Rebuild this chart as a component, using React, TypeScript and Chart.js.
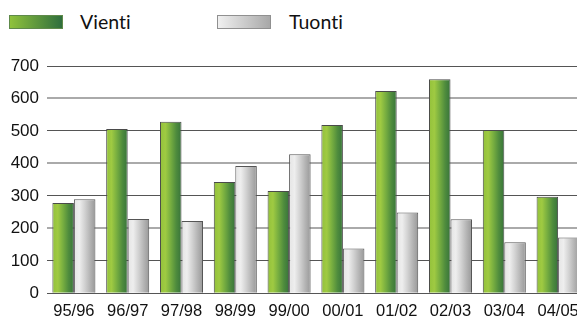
import React, { useEffect, useRef } from 'react';
import { Chart, registerables } from 'chart.js';

Chart.register(...registerables);

const categories = ['95/96', '96/97', '97/98', '98/99', '99/00', '00/01', '01/02', '02/03', '03/04', '04/05'];
const vientiValues = [278, 506, 528, 343, 315, 518, 623, 659, 503, 297];
const tuontiValues = [290, 229, 223, 392, 428, 138, 249, 228, 157, 172];
const seriesNames = ['Vienti', 'Tuonti'];
const yMin = 0;
const yMax = 700;
const yStep = 100;

const greenStops: [number, string][] = [
  [0, '#93c13b'],
  [0.25, '#9fca42'],
  [0.5, '#76ad40'],
  [0.75, '#4f8c3d'],
  [1, '#37733a'],
];
const grayStops: [number, string][] = [
  [0, '#e4e4e4'],
  [0.25, '#eeeeee'],
  [0.5, '#d2d2d2'],
  [0.75, '#b4b4b4'],
  [1, '#989898'],
];
const greenLegendStops: [number, string][] = [
  [0, '#8fc23c'],
  [1, '#2f6e3d'],
];
const grayLegendStops: [number, string][] = [
  [0, '#f0f0f0'],
  [1, '#a8a8a8'],
];

const CAT_PCT = 0.8;

function gradientFor(stops: [number, string][], fallback: string) {
  return (ctx: any) => {
    const chart = ctx.chart;
    const area = chart.chartArea;
    if (!area || ctx.type !== 'data') return fallback;
    const xs = chart.scales.x;
    const n = categories.length;
    const catW = xs.width / n;
    const barW = (catW * CAT_PCT) / 2;
    const center = xs.getPixelForValue(ctx.dataIndex);
    const left = center - barW + ctx.datasetIndex * barW;
    const g = chart.ctx.createLinearGradient(left, 0, left + barW, 0);
    stops.forEach(([o, c]) => g.addColorStop(o, c));
    return g;
  };
}

function cssGradient(stops: [number, string][]) {
  return 'linear-gradient(to right, ' + stops.map(([o, c]) => `${c} ${o * 100}%`).join(', ') + ')';
}

export default function App() {
  const ref = useRef<HTMLCanvasElement | null>(null);

  useEffect(() => {
    document.body.style.margin = '0';
    const canvas = ref.current;
    if (!canvas) return;
    const chart = new Chart(canvas, {
      type: 'bar',
      data: {
        labels: categories,
        datasets: [
          {
            label: seriesNames[0],
            data: vientiValues,
            backgroundColor: gradientFor(greenStops, '#6aa33f'),
            borderColor: '#4a4a4a',
            borderWidth: 1,
            categoryPercentage: CAT_PCT,
            barPercentage: 1,
          },
          {
            label: seriesNames[1],
            data: tuontiValues,
            backgroundColor: gradientFor(grayStops, '#cccccc'),
            borderColor: '#555555',
            borderWidth: 1,
            categoryPercentage: CAT_PCT,
            barPercentage: 1,
          },
        ],
      },
      options: {
        animation: false,
        responsive: true,
        maintainAspectRatio: false,
        layout: { padding: { top: 0, right: 15, left: 0, bottom: 0 } },
        plugins: {
          legend: { display: false },
          tooltip: { enabled: false },
        },
        scales: {
          x: {
            grid: { display: false, drawTicks: false },
            border: { display: false },
            ticks: {
              color: '#111111',
              font: { family: 'Liberation Sans', size: 16.5 },
              padding: 8,
              maxRotation: 0,
              autoSkip: false,
            },
            afterFit: (s: any) => {
              s.height = 22.7;
              s.paddingLeft = 0;
              s.paddingRight = 0;
            },
          },
          y: {
            min: yMin,
            max: yMax,
            ticks: {
              stepSize: yStep,
              color: '#111111',
              font: { family: 'Liberation Sans', size: 17 },
              padding: 8,
            },
            grid: {
              drawTicks: false,
              color: (c: any) => (c.tick && c.tick.value % 200 === 0 && c.tick.value !== 0 ? '#aaaaaa' : '#555555'),
              lineWidth: (c: any) => (c.tick && c.tick.value % 200 === 0 && c.tick.value !== 0 ? 2 : 1),
            },
            border: { display: false },
            afterFit: (s: any) => {
              s.width = 47;
              s.paddingTop = 10;
              s.paddingBottom = 0;
            },
          },
        },
      },
    });
    return () => chart.destroy();
  }, []);

  const legendText: React.CSSProperties = {
    position: 'absolute',
    top: 8,
    fontFamily: 'Lato',
    fontSize: 19.5,
    lineHeight: '28px',
    color: '#111111',
    fontVariantLigatures: 'none',
    fontFeatureSettings: '"liga" 0, "clig" 0',
  };

  return (
    <div
      style={{
        position: 'fixed',
        left: 0,
        top: 0,
        width: 577,
        height: 316,
        overflow: 'hidden',
        background: '#ffffff',
      }}
    >
      <div
        style={{
          position: 'absolute',
          left: 9,
          top: 15,
          width: 54,
          height: 14,
          background: cssGradient(greenLegendStops),
          boxSizing: 'border-box',
          border: '1px solid #5f8a4a',
        }}
      />
      <div style={{ ...legendText, left: 80 }}>{seriesNames[0]}</div>
      <div
        style={{
          position: 'absolute',
          left: 217,
          top: 15,
          width: 54,
          height: 14,
          background: cssGradient(grayLegendStops),
          boxSizing: 'border-box',
          border: '1px solid #909090',
        }}
      />
      <div style={{ ...legendText, left: 289 }}>{seriesNames[1]}</div>
      <div style={{ position: 'absolute', left: 0, top: 56, width: 600, height: 260 }}>
        <canvas ref={ref} />
      </div>
    </div>
  );
}
